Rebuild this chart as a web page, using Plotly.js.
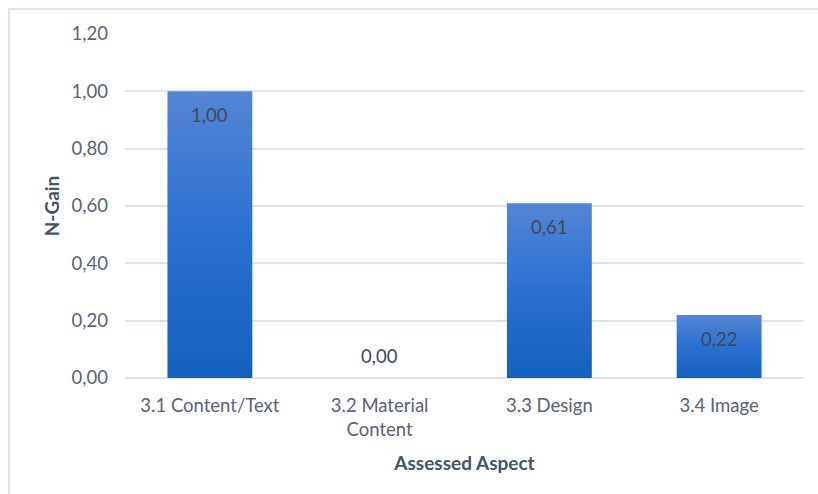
<!DOCTYPE html>
<html>
<head>
<meta charset="utf-8">
<script src="https://cdn.plot.ly/plotly-3.0.1.min.js"></script>
<style>
  html, body { margin: 0; padding: 0; background: #ffffff; overflow: hidden; }
  #frame {
    position: absolute; left: 8px; top: 8px; width: 830px; height: 500px;
    border-top: 2px solid #dde2ea; border-left: 2px solid #dde2ea;
  }
  #chart { position: absolute; left: 0; top: 0; width: 818px; height: 494px; }
</style>
</head>
<body>
<div id="frame"></div>
<div id="chart"></div>
<script>
// Assessed aspects and their N-Gain scores
const categories = ['3.1 Content/Text', '3.2 Material<br>Content', '3.3 Design', '3.4 Image'];
const nGain = [1.00, 0.00, 0.61, 0.22];
const yTicks = [0, 0.2, 0.4, 0.6, 0.8, 1.0, 1.2];

const FONT = 'Lato, "Open Sans", sans-serif';
const TICK_COLOR = '#5a6374';
const TITLE_COLOR = '#44546a';
const GRID_COLOR = '#dfe3ea';
const TEXT_SIZE = 18.5;

// value labels, written with a decimal comma
const fmt = v => v.toFixed(2).replace('.', ',');

const labels = categories.map((c, i) => ({
  x: c,
  y: nGain[i],
  xref: 'x', yref: 'y',
  text: fmt(nGain[i]),
  showarrow: false,
  yanchor: 'middle',
  yshift: nGain[i] > 0 ? -24 : 22,
  font: { family: FONT, size: TEXT_SIZE, color: '#404856' }
}));

const data = [{
  type: 'bar',
  x: categories,
  y: nGain,
  marker: { color: '#2a6fd2', line: { width: 0 } },
  hoverinfo: 'skip'
}];

const layout = {
  width: 818, height: 494,
  margin: { l: 125, r: 14, t: 34, b: 116 },
  paper_bgcolor: 'rgba(0,0,0,0)',
  plot_bgcolor: 'rgba(0,0,0,0)',
  separators: ',.',
  bargap: 0.5,
  showlegend: false,
  font: { family: FONT, size: TEXT_SIZE, color: TICK_COLOR },
  xaxis: {
    type: 'category',
    showgrid: false, showline: false, zeroline: false,
    ticks: '',
    ticklabelstandoff: 14,
    tickfont: { family: FONT, size: TEXT_SIZE, color: TICK_COLOR },
    title: { text: 'Assessed Aspect', standoff: 18,
             font: { family: FONT, size: 19, color: TITLE_COLOR, weight: 'bold' } }
  },
  yaxis: {
    range: [0, 1.2],
    tickvals: yTicks,
    tickformat: '.2f',
    showgrid: true, gridcolor: GRID_COLOR, gridwidth: 2,
    zeroline: true, zerolinecolor: GRID_COLOR, zerolinewidth: 2,
    showline: false, ticks: '',
    ticklabelstandoff: 16,
    tickfont: { family: FONT, size: TEXT_SIZE, color: TICK_COLOR },
    title: { text: 'N-Gain', standoff: 6,
             font: { family: FONT, size: 19, color: TITLE_COLOR, weight: 'bold' } }
  },
  annotations: labels
};

Plotly.newPlot('chart', data, layout, { staticPlot: true, displayModeBar: false }).then(gd => {
  // vertical light-to-dark blue fill for each bar
  const ns = 'http://www.w3.org/2000/svg';
  const svg = gd.querySelector('svg.main-svg');
  let defs = svg.querySelector('defs');
  if (!defs) { defs = document.createElementNS(ns, 'defs'); svg.insertBefore(defs, svg.firstChild); }
  const grad = document.createElementNS(ns, 'linearGradient');
  grad.setAttribute('id', 'barFill');
  grad.setAttribute('x1', '0'); grad.setAttribute('y1', '0');
  grad.setAttribute('x2', '0'); grad.setAttribute('y2', '1');
  [['0%', '#5585d5'], ['50%', '#2a70d2'], ['100%', '#1560bd']].forEach(([o, c]) => {
    const s = document.createElementNS(ns, 'stop');
    s.setAttribute('offset', o); s.setAttribute('stop-color', c);
    grad.appendChild(s);
  });
  defs.appendChild(grad);
  gd.querySelectorAll('.bars .point path').forEach(p => { p.style.fill = 'url(#barFill)'; });
});
</script>
</body>
</html>
